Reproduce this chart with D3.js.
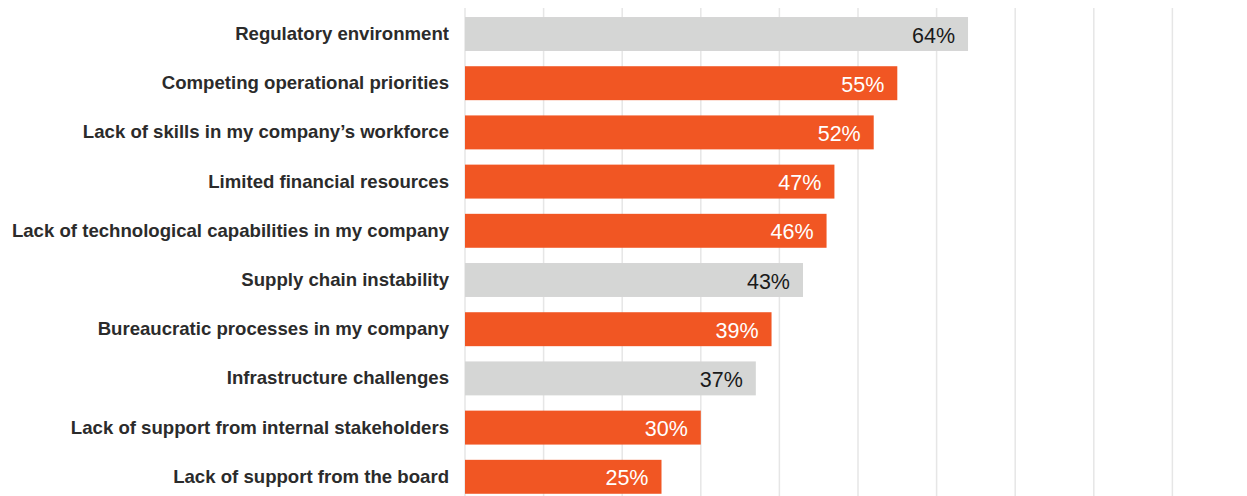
<!DOCTYPE html>
<html><head><meta charset="utf-8">
<script src="https://cdn.jsdelivr.net/npm/d3@7"></script>
<style>body{margin:0;background:#fff}svg{display:block}</style>
</head><body>
<svg id="c" width="1247" height="496"></svg>
<script>
const categories = ["Regulatory environment","Competing operational priorities","Lack of skills in my company\u2019s workforce","Limited financial resources","Lack of technological capabilities in my company","Supply chain instability","Bureaucratic processes in my company","Infrastructure challenges","Lack of support from internal stakeholders","Lack of support from the board"];
const values = [64,55,52,47,46,43,39,37,30,25];
const highlighted = [false,true,true,true,true,false,true,false,true,true];
const gridTicks = [0,10,20,30,40,50,60,70,80,90,100];

const svg = d3.select("#c");
const x = d3.scaleLinear().domain([0,100]).range([465,1251]);
const y = d3.scaleBand().domain(categories).range([9.4,501.4]).paddingInner(0.31).paddingOuter(0.155);

svg.append("g").selectAll("line").data(gridTicks).join("line")
  .attr("x1",d=>x(d)).attr("x2",d=>x(d)).attr("y1",8).attr("y2",496)
  .attr("stroke","#e6e6e6").attr("stroke-width",1.5);

const data = categories.map((c,i)=>({c,v:values[i],h:highlighted[i]}));
svg.append("g").selectAll("rect").data(data).join("rect")
  .attr("x",x(0)).attr("y",d=>y(d.c)).attr("width",d=>x(d.v)-x(0)).attr("height",y.bandwidth())
  .attr("fill",d=>d.h?"#f15623":"#d5d6d5");

svg.append("g").selectAll("text").data(data).join("text")
  .attr("x",449).attr("y",d=>y(d.c)+y.bandwidth()/2-0.5).attr("dy","0.35em")
  .attr("text-anchor","end").attr("font-family","Liberation Sans, Arial, sans-serif")
  .attr("font-weight","bold").attr("font-size",18.6).attr("fill","#2b2b2b").text(d=>d.c);

svg.append("g").selectAll("text").data(data).join("text")
  .attr("x",d=>x(d.v)-13).attr("y",d=>y(d.c)+y.bandwidth()/2+1).attr("dy","0.35em")
  .attr("text-anchor","end").attr("font-family","Liberation Sans, Arial, sans-serif")
  .attr("font-size",21.5).attr("fill",d=>d.h?"#ffffff":"#1a1a1a").text(d=>d.v+"%");
</script>
</body></html>
